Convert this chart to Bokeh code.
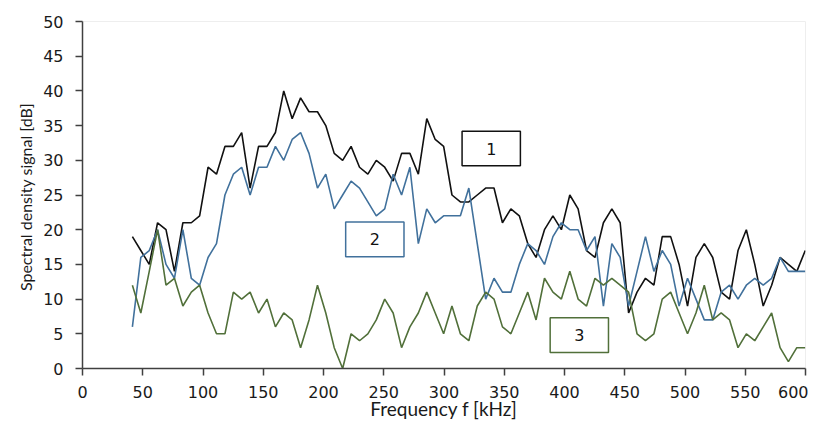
from bokeh.plotting import figure
from bokeh.models import FixedTicker, Range1d
from bokeh.embed import file_html
from bokeh.resources import INLINE
from bokeh.core.properties import value

# ---- data ----
freq = [41.4, 48.4, 55.4, 62.3, 69.3, 76.3, 83.3, 90.3, 97.2, 104.2,
        111.2, 118.2, 125.2, 132.1, 139.1, 146.1, 153.1, 160.1, 167.0, 174.0,
        181.0, 188.0, 195.0, 201.9, 208.9, 215.9, 222.9, 229.9, 236.8, 243.8,
        250.8, 257.8, 264.8, 271.7, 278.7, 285.7, 292.7, 299.7, 306.6, 313.6,
        320.6, 327.6, 334.6, 341.5, 348.5, 355.5, 362.5, 369.5, 376.4, 383.4,
        390.4, 397.4, 404.4, 411.3, 418.3, 425.3, 432.3, 439.3, 446.2, 453.2,
        460.2, 467.2, 474.2, 481.1, 488.1, 495.1, 502.1, 509.1, 516.0, 523.0,
        530.0, 537.0, 544.0, 550.9, 557.9, 564.9, 571.9, 578.9, 585.8, 592.8,
        599.8]

curve1 = [19, 17, 15, 21, 20, 14, 21, 21, 22, 29,
          28, 32, 32, 34, 26, 32, 32, 34, 40, 36,
          39, 37, 37, 35, 31, 30, 32, 29, 28, 30,
          29, 27, 31, 31, 28, 36, 33, 32, 25, 24,
          24, 25, 26, 26, 21, 23, 22, 18, 16, 20,
          22, 20, 25, 23, 17, 16, 21, 23, 21, 8,
          11, 13, 12, 19, 19, 15, 9, 16, 18, 16,
          11, 10, 17, 20, 15, 9, 12, 16, 15, 14,
          17]

curve2 = [6, 16, 17, 20, 15, 13, 20, 13, 12, 16,
          18, 25, 28, 29, 25, 29, 29, 32, 30, 33,
          34, 31, 26, 28, 23, 25, 27, 26, 24, 22,
          23, 28, 25, 29, 18, 23, 21, 22, 22, 22,
          26, 18, 10, 13, 11, 11, 15, 18, 17, 15,
          19, 21, 20, 20, 17, 19, 9, 18, 16, 9,
          14, 19, 14, 17, 15, 9, 13, 10, 7, 7,
          11, 12, 10, 12, 13, 12, 13, 16, 14, 14,
          14]

curve3 = [12, 8, 14, 20, 12, 13, 9, 11, 12, 8,
          5, 5, 11, 10, 11, 8, 10, 6, 8, 7,
          3, 7, 12, 8, 3, 0, 5, 4, 5, 7,
          10, 8, 3, 6, 8, 11, 8, 5, 9, 5,
          4, 9, 11, 10, 6, 5, 8, 11, 7, 13,
          11, 10, 14, 10, 9, 13, 12, 13, 12, 11,
          5, 4, 5, 10, 11, 8, 5, 8, 12, 7,
          8, 7, 3, 5, 4, 6, 8, 3, 1, 3,
          3]

series_names = ["1", "2", "3"]
x_ticks = [0, 50, 100, 150, 200, 250, 300, 350, 400, 450, 500, 550, 600]
y_ticks = [0, 5, 10, 15, 20, 25, 30, 35, 40, 45, 50]

# ---- styling ----
c_black = "#111111"
c_blue = "#41719C"
c_green = "#51703A"

p = figure(width=808, height=425, output_backend="svg", toolbar_location=None,
           x_range=Range1d(0, 600), y_range=Range1d(0, 50),
           min_border_left=82, min_border_right=3,
           min_border_top=21, min_border_bottom=57)
p.outline_line_color = "#eeeeee"
p.xgrid.visible = False
p.ygrid.visible = False
p.background_fill_color = "white"
p.border_fill_color = "white"

p.line(freq, curve1, line_color=c_black, line_width=1.6)
p.line(freq, curve2, line_color=c_blue, line_width=1.6)
p.line(freq, curve3, line_color=c_green, line_width=1.6)

# series label boxes
box_x = [339.2, 242.6, 412.3]
box_y = [31.7, 18.6, 4.8]
box_colors = [c_black, c_blue, c_green]
for bx, by, bc, name in zip(box_x, box_y, box_colors, series_names):
    p.rect(x=[bx], y=[by], width=48.4, height=5.0, fill_color="white",
           line_color=bc, line_width=1.5)
    p.text(x=[bx], y=[by], text=[name], text_align="center", text_baseline="middle",
           text_font=value("DejaVu Sans"), text_font_size=value("16px"),
           text_color="#111111")

for ax in (p.xaxis[0], p.yaxis[0]):
    ax.axis_line_color = "#404040"
    ax.axis_line_width = 1.5
    ax.major_tick_line_color = "#404040"
    ax.major_tick_line_width = 1.5
    ax.major_tick_in = 0
    ax.major_tick_out = 7
    ax.minor_tick_line_color = None
    ax.major_label_text_font = "DejaVu Sans"
    ax.major_label_text_font_size = "16px"
    ax.major_label_text_color = "#1a1a1a"
    ax.axis_label_text_font = "Lato"
    ax.axis_label_text_font_style = "normal"
    ax.axis_label_text_color = "#1a1a1a"

p.xaxis.ticker = FixedTicker(ticks=x_ticks)
p.yaxis.ticker = FixedTicker(ticks=y_ticks)
p.xaxis.axis_label = "Frequency f [kHz]"
p.yaxis.axis_label = "Spectral density signal  [dB]"
p.xaxis.axis_label_text_font_size = "19px"
p.yaxis.axis_label_text_font_size = "16px"
p.xaxis.major_label_standoff = 10
p.yaxis.major_label_standoff = 12
p.xaxis.axis_label_standoff = -4
p.yaxis.axis_label_standoff = 5

open("out.html", "w").write(file_html(p, INLINE))
